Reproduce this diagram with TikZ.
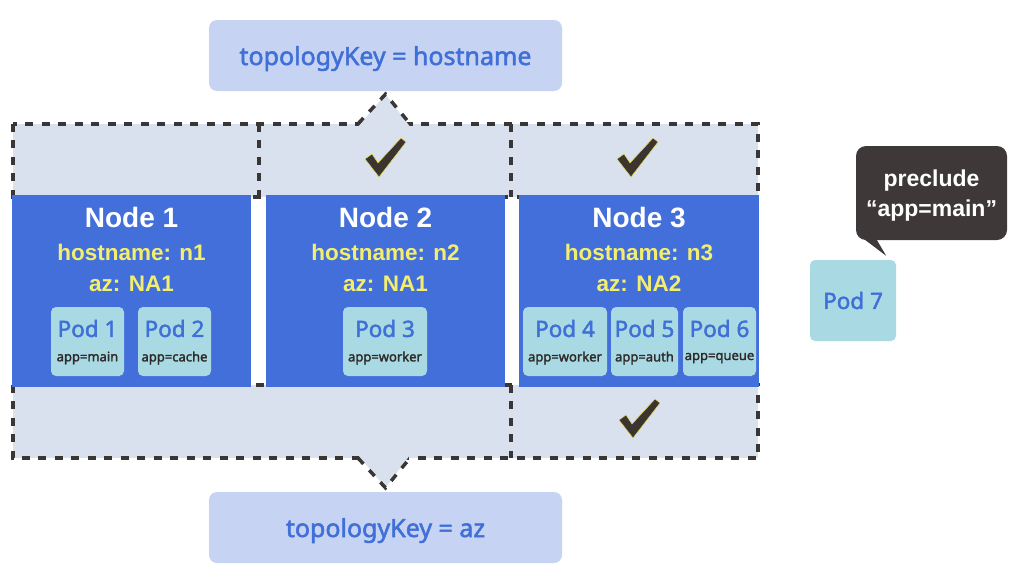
\documentclass[tikz,border=0pt]{standalone}
\usepackage{fontspec}
\setmainfont{Liberation Sans}
\newfontfamily\podfont[FakeBold=2]{Noto Sans}
\usepackage{tikz}
\usetikzlibrary{positioning}
\definecolor{topofill}{HTML}{C6D3F3}
\definecolor{topoblue}{HTML}{3F6FD7}
\definecolor{bandgray}{HTML}{DAE1EE}
\definecolor{dashgray}{HTML}{3A3636}
\definecolor{nodeblue}{HTML}{436FDB}
\definecolor{infoyellow}{HTML}{F3EE6E}
\definecolor{podcyan}{HTML}{A9DAE4}
\definecolor{apptextgray}{HTML}{2E2A2A}
\definecolor{notedark}{HTML}{3E3838}
\definecolor{checkdark}{HTML}{3B342F}
\definecolor{checkyellow}{HTML}{E6DC50}

\begin{document}
\begin{tikzpicture}[x=1pt,y=-1pt,every node/.style={inner sep=0pt},
  topo/.style={fill=topofill,rounded corners=8pt,minimum width=353pt,minimum height=71pt},
  topotext/.style={text=topoblue,font=\podfont\fontsize{25}{25}\selectfont},
  band/.style={fill=bandgray,minimum height=73pt},
  dashbox/.style={draw=dashgray,line width=3.5pt,dash pattern=on 8pt off 8.5pt},
  hostbox/.style={fill=nodeblue,minimum width=239pt,minimum height=192pt},
  title/.style={text=white,font=\bfseries\fontsize{28}{28}\selectfont},
  info/.style={text=infoyellow,font=\bfseries\fontsize{22.5}{22.5}\selectfont},
  pod/.style={fill=podcyan,rounded corners=5pt,minimum height=69pt},
  podname/.style={text=topoblue,font=\podfont\fontsize{22.5}{22.5}\selectfont},
  apptext/.style={text=apptextgray,font=\podfont\fontsize{13}{13}\selectfont},
  note/.style={fill=notedark,rounded corners=10pt,minimum width=151pt,minimum height=94pt},
  notetext/.style={text=white,align=center,font=\bfseries\fontsize{23}{30}\selectfont},
  checkmark/.style={fill=checkdark,draw=checkyellow,line width=0.5pt,line join=round}]
  \useasboundingbox (0,0) rectangle (1017,581);

  % hostname and az bands
  \node[band,minimum width=246pt] (hb1) at (136,160.5){};
  \node[band,minimum width=252pt] (hb2) at (385,160.5){};
  \node[band,minimum width=247pt] (hb3) at (634.5,160.5){};
  \node[band,minimum width=498pt] (ab1) at (262,421.5){};
  \node[band,minimum width=247pt] (ab2) at (634.5,421.5){};
  \draw[dashbox](hb1.north west) rectangle (hb3.south east);
  \draw[dashbox](hb1.north east)--(hb1.south east);
  \draw[dashbox](hb2.north east)--(hb2.south east);
  \draw[dashbox](ab1.north west) rectangle (ab2.south east);
  \draw[dashbox](ab1.north east)--(ab1.south east);

  % topology keys
  \node[topo,label={[topotext,yshift=-3pt]center:topologyKey = hostname}] (top) at (385.5,55.5){};
  \node[topo,label={[topotext,yshift=-3pt]center:topologyKey = az}] (bot) at (385.5,527.5){};

  \coordinate (tl) at ([xshift=-27pt]hb2.north);
  \coordinate (tr) at ([xshift=25pt]hb2.north);
  \coordinate (ta) at ([yshift=-3pt]top.south);
  \fill[bandgray]([yshift=-3pt]tl)--(ta)--([yshift=-3pt]tr)--cycle;
  \draw[dashbox](tl)--(ta)--(tr);
  \coordinate (bl) at (358,458);
  \coordinate (br) at (410,458);
  \coordinate (ba) at ([yshift=4pt]bot.north);
  \fill[bandgray]([yshift=3pt]bl)--(ba)--([yshift=3pt]br)--cycle;
  \draw[dashbox](bl)--(ba)--(br);

  % nodes
  \node[hostbox,label={[title,yshift=73.5pt]center:Node 1},label={[info,yshift=38.5pt]center:hostname: n1},
    label={[info,yshift=7.5pt]center:az: NA1}] (n1) at (131.5,291){};
  \node[hostbox,label={[title,yshift=73.5pt]center:Node 2},label={[info,yshift=38.5pt]center:hostname: n2},
    label={[info,yshift=7.5pt]center:az: NA1}] (n2) at (385.5,291){};
  \node[hostbox,minimum width=240pt,label={[title,yshift=73.5pt]center:Node 3},label={[info,yshift=38.5pt]center:hostname: n3},
    label={[info,yshift=7.5pt]center:az: NA2}] (n3) at (639,291){};

  % pods
  \node[pod,minimum width=73pt,label={[podname,yshift=13pt]center:Pod 1},label={[apptext,yshift=-16.5pt]center:app=main}] (p1) at (87.5,341.5){};
  \node[pod,minimum width=73pt,label={[podname,yshift=13pt]center:Pod 2},label={[apptext,yshift=-16.5pt]center:app=cache}] (p2) at (174.5,341.5){};
  \node[pod,minimum width=84pt,label={[podname,yshift=13pt]center:Pod 3},label={[apptext,yshift=-16.5pt]center:app=worker}] (p3) at (385,341.5){};
  \node[pod,minimum width=84pt,label={[podname,yshift=13pt]center:Pod 4},label={[apptext,yshift=-16.5pt]center:app=worker}] (p4) at (565,341.5){};
  \node[pod,minimum width=67pt,label={[podname,yshift=13pt]center:Pod 5},label={[apptext,yshift=-16.5pt]center:app=auth}] (p5) at (644.5,341.5){};
  \node[pod,minimum width=73pt,label={[podname,yshift=13pt]center:Pod 6},label={[apptext,yshift=-16.5pt]center:app=queue}] (p6) at (719.5,341.5){};
  \node[pod,minimum width=86pt,minimum height=81pt,label={[podname]center:Pod 7}] (p7) at (853,300.5){};

  % callout
  \node[note,label={[notetext,yshift=-3pt]center:preclude\\“app=main”}] (pre) at (931.5,193){};
  \coordinate (tip) at ([xshift=-10pt,yshift=4pt]p7.north east);
  \fill[notedark]([xshift=7pt,yshift=2pt]pre.south west)--(tip)--([xshift=20pt,yshift=2pt]pre.south west)--cycle;

  % checks
  \draw[checkmark,shift={(365,138)}](0,21)--(7,16)--(13,25)--(36,0)--(41,4)--(14,39)--cycle;
  \draw[checkmark,shift={(617,138)}](0,21)--(7,16)--(13,25)--(36,0)--(41,4)--(14,39)--cycle;
  \draw[checkmark,shift={(619,399)}](0,21)--(7,16)--(13,25)--(36,0)--(41,4)--(14,39)--cycle;
\end{tikzpicture}
\end{document}
